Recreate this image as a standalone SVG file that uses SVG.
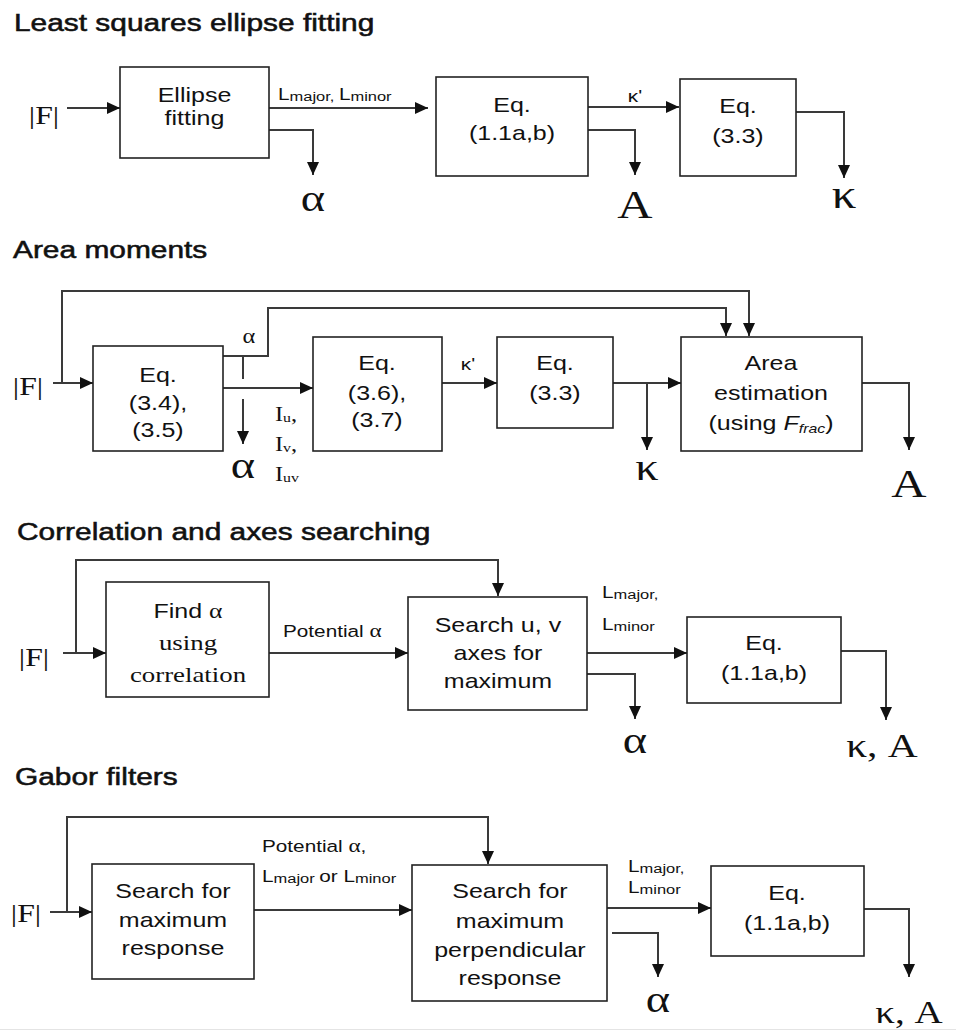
<svg xmlns="http://www.w3.org/2000/svg" width="956" height="1032" viewBox="0 0 956 1032">
<style>
text{fill:#111}
.s{transform-box:fill-box;transform-origin:center;transform:scaleX(1.22)}
.sl{transform-box:fill-box;transform-origin:left;transform:scaleX(1.22)}
.ttl{font-family:"Liberation Sans",Arial,sans-serif;font-size:24.5px;stroke:#111;stroke-width:0.55px}
.bx{font-family:"Liberation Sans",Arial,sans-serif;font-size:20.5px;text-anchor:middle}
.lb{font-family:"Liberation Sans",Arial,sans-serif;font-size:17px}
.sub{font-size:13.5px}
.m{font-family:"Liberation Serif","Times New Roman",serif}
.mc{font-family:"Liberation Serif","Times New Roman",serif;text-anchor:middle}
.box{fill:#fff;stroke:#222;stroke-width:1.6}
.c{fill:none;stroke:#3a3a3a;stroke-width:2}
.a{marker-end:url(#ah)}
</style>
<defs>
<marker id="ah" markerUnits="userSpaceOnUse" markerWidth="13" markerHeight="12" refX="13" refY="6" orient="auto">
<path d="M0,0 L13,6 L0,12 z" fill="#111"/>
</marker>
</defs>
<rect width="956" height="1032" fill="#fff"/>
<line x1="0" y1="1029.5" x2="956" y2="1029.5" stroke="#e4e4e4" stroke-width="1"/>

<g id="titles">
<text class="ttl sl" x="14" y="31">Least squares ellipse fitting</text>
<text class="ttl sl" x="13" y="258">Area moments</text>
<text class="ttl sl" x="17" y="540">Correlation and axes searching</text>
<text class="ttl sl" x="15" y="785">Gabor filters</text>
</g>

<g id="connectors">
<!-- section 1 -->
<path class="c a" d="M67,108 H120"/>
<path class="c a" d="M269,108 H428"/>
<path class="c a" d="M269,130 H313 V175"/>
<path class="c a" d="M588,107 H679"/>
<path class="c a" d="M588,130 H635 V175"/>
<path class="c a" d="M796,112 H844 V178"/>
<!-- section 2 -->
<path class="c a" d="M53,383 H93"/>
<path class="c a" d="M62,383 V291 H749 V336"/>
<path class="c a" d="M223,356 H268 V308 H726 V336"/>
<path class="c" d="M243,356 V379"/>
<path class="c a" d="M243,399 V444"/>
<path class="c a" d="M223,388 H313"/>
<path class="c a" d="M442,383 H497"/>
<path class="c a" d="M613,383 H681"/>
<path class="c a" d="M647,383 V450"/>
<path class="c a" d="M862,383 H909 V450"/>
<!-- section 3 -->
<path class="c a" d="M63,653 H106"/>
<path class="c a" d="M76,653 V560 H498 V596"/>
<path class="c a" d="M269,653 H408"/>
<path class="c a" d="M587,653 H687"/>
<path class="c a" d="M587,674 H635 V719"/>
<path class="c a" d="M841,651 H886 V720"/>
<!-- section 4 -->
<path class="c a" d="M50,912 H92"/>
<path class="c a" d="M67,912 V817 H488 V864"/>
<path class="c a" d="M254,910 H412"/>
<path class="c a" d="M607,908 H711"/>
<path class="c a" d="M612,933 H658 V977"/>
<path class="c a" d="M864,909 H909 V977"/>
</g>

<g id="labels">
<!-- inputs -->
<text class="mc s" x="44" y="124" font-size="26">|F|</text>
<text class="mc s" x="28" y="395" font-size="26">|F|</text>
<text class="mc s" x="34" y="666" font-size="26">|F|</text>
<text class="mc s" x="26" y="922" font-size="26">|F|</text>
<!-- section 1 -->
<text class="lb sl" x="278" y="100">L<tspan class="sub" dy="1">major, </tspan><tspan dy="-1">L</tspan><tspan class="sub" dy="1">minor</tspan></text>
<text class="mc s" x="313" y="211" font-size="38">α</text>
<text class="lb s" x="635" y="102" text-anchor="middle">κ'</text>
<text class="mc s" x="635" y="218" font-size="40">A</text>
<text class="mc s" x="844" y="208" font-size="40">κ</text>
<!-- section 2 -->
<text class="mc s" x="249" y="343" font-size="20">α</text>
<text class="mc s" x="243" y="478" font-size="38">α</text>
<text class="m sl" x="275" y="421" font-size="20">I<tspan font-size="13" dy="1">u</tspan><tspan dy="-1">,</tspan></text>
<text class="m sl" x="275" y="451" font-size="20">I<tspan font-size="13" dy="1">v</tspan><tspan dy="-1">,</tspan></text>
<text class="m sl" x="275" y="481" font-size="20">I<tspan font-size="13" dy="1">uv</tspan></text>
<text class="lb s" x="468" y="370" text-anchor="middle">κ'</text>
<text class="mc s" x="647" y="480" font-size="38">κ</text>
<text class="mc s" x="909" y="497" font-size="40">A</text>
<!-- section 3 -->
<text class="lb sl" x="283" y="637">Potential <tspan class="m" font-size="19">α</tspan></text>
<text class="lb sl" x="602" y="598">L<tspan class="sub" dy="1">major,</tspan></text>
<text class="lb sl" x="602" y="630">L<tspan class="sub" dy="1">minor</tspan></text>
<text class="mc s" x="635" y="753" font-size="38">α</text>
<text class="mc s" x="882" y="757" font-size="34">κ, A</text>
<!-- section 4 -->
<text class="lb sl" x="262" y="852">Potential <tspan class="m" font-size="19">α</tspan>,</text>
<text class="lb sl" x="262" y="882">L<tspan class="sub" dy="1">major </tspan><tspan dy="-1">or L</tspan><tspan class="sub" dy="1">minor</tspan></text>
<text class="lb sl" x="628" y="872">L<tspan class="sub" dy="1">major,</tspan></text>
<text class="lb sl" x="628" y="893">L<tspan class="sub" dy="1">minor</tspan></text>
<text class="mc s" x="658" y="1012" font-size="38">α</text>
<text class="mc s" x="909" y="1023" font-size="32">κ, A</text>
</g>

<g id="ellipse-fitting">
<rect class="box" x="120" y="67" width="149" height="91"/>
<text class="bx s" x="194.5" y="102">Ellipse</text>
<text class="bx s" x="194.5" y="125">fitting</text>
</g>
<g id="ls-eq-1-1">
<rect class="box" x="436" y="77" width="152" height="99"/>
<text class="bx s" x="512" y="112">Eq.</text>
<text class="bx s" x="512" y="140">(1.1a,b)</text>
</g>
<g id="ls-eq-3-3">
<rect class="box" x="680" y="79" width="116" height="97"/>
<text class="bx s" x="738" y="113">Eq.</text>
<text class="bx s" x="738" y="143">(3.3)</text>
</g>

<g id="am-eq-3-4">
<rect class="box" x="93" y="346" width="130" height="105"/>
<text class="bx s" x="158" y="382">Eq.</text>
<text class="bx s" x="158" y="410">(3.4),</text>
<text class="bx s" x="158" y="437">(3.5)</text>
</g>
<g id="am-eq-3-6">
<rect class="box" x="313" y="337" width="129" height="114"/>
<text class="bx s" x="377" y="370">Eq.</text>
<text class="bx s" x="377" y="400">(3.6),</text>
<text class="bx s" x="377" y="427">(3.7)</text>
</g>
<g id="am-eq-3-3">
<rect class="box" x="497" y="337" width="116" height="91"/>
<text class="bx s" x="555" y="370">Eq.</text>
<text class="bx s" x="555" y="400">(3.3)</text>
</g>
<g id="am-area">
<rect class="box" x="681" y="337" width="181" height="114"/>
<text class="bx s" x="771" y="370">Area</text>
<text class="bx s" x="771" y="400">estimation</text>
<text class="bx s" x="771" y="430">(using <tspan font-style="italic">F</tspan><tspan font-style="italic" font-size="13" dy="3">frac</tspan><tspan dy="-3">)</tspan></text>
</g>

<g id="cs-find">
<rect class="box" x="106" y="582" width="163" height="115"/>
<text class="bx s" x="188" y="618">Find <tspan class="m" font-size="21">α</tspan></text>
<text class="mc s" x="188" y="650" font-size="22">using</text>
<text class="mc s" x="188" y="682" font-size="22">correlation</text>
</g>
<g id="cs-search">
<rect class="box" x="408" y="597" width="179" height="113"/>
<text class="bx s" x="498" y="632">Search u, v</text>
<text class="bx s" x="498" y="660">axes for</text>
<text class="bx s" x="498" y="688">maximum</text>
</g>
<g id="cs-eq-1-1">
<rect class="box" x="687" y="617" width="154" height="86"/>
<text class="bx s" x="764" y="650">Eq.</text>
<text class="bx s" x="764" y="680">(1.1a,b)</text>
</g>

<g id="gf-search">
<rect class="box" x="92" y="864" width="162" height="115"/>
<text class="bx s" x="173" y="898">Search for</text>
<text class="bx s" x="173" y="927">maximum</text>
<text class="bx s" x="173" y="955">response</text>
</g>
<g id="gf-perp">
<rect class="box" x="412" y="865" width="195" height="136"/>
<text class="bx s" x="510" y="898">Search for</text>
<text class="bx s" x="510" y="928">maximum</text>
<text class="bx s" x="510" y="957">perpendicular</text>
<text class="bx s" x="510" y="985">response</text>
</g>
<g id="gf-eq-1-1">
<rect class="box" x="711" y="866" width="153" height="90"/>
<text class="bx s" x="787" y="900">Eq.</text>
<text class="bx s" x="787" y="930">(1.1a,b)</text>
</g>
</svg>
